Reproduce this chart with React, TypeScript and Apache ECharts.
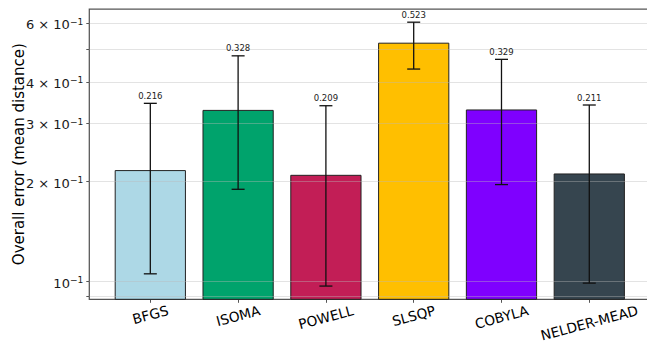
import React, { useEffect, useRef } from 'react';
import * as echarts from 'echarts';

const categories = ['BFGS', 'ISOMA', 'POWELL', 'SLSQP', 'COBYLA', 'NELDER-MEAD'];
const meanError = [0.216, 0.328, 0.209, 0.523, 0.329, 0.211];
const errLow = [0.1055, 0.1897, 0.0969, 0.437, 0.196, 0.0989];
const errHigh = [0.3445, 0.479, 0.3388, 0.605, 0.4675, 0.3405];
const barColors = ['#ADD8E6', '#00A36C', '#C21E56', '#FFBF00', '#7F00FF', '#36454F'];
const yTickValues = [0.09, 0.1, 0.2, 0.3, 0.4, 0.5, 0.6];
const yLabelValues = [0.1, 0.2, 0.3, 0.4, 0.6];
const yMin = 0.0884;
const yMax = 0.663;

const FONT = '"DejaVu Sans", sans-serif';
const lg = (v: number) => Math.log10(v);

function measure(text: string, size: number): number {
  const c = document.createElement('canvas').getContext('2d');
  if (!c) return text.length * size * 0.6;
  c.font = `${size}px "DejaVu Sans"`;
  return c.measureText(text).width;
}

export default function App() {
  const ref = useRef<HTMLDivElement>(null);
  useEffect(() => {
    if (!ref.current) return;
    const chart = echarts.init(ref.current, undefined, { renderer: 'svg' });
    const xfs = 13.7;
    const rot = (15 * Math.PI) / 180;
    const rich: Record<string, any> = {};
    categories.forEach((c, i) => {
      const w = measure(c, xfs);
      const D = (w * Math.sin(rot) + xfs * Math.cos(rot)) / 2;
      rich['l' + i] = {
        fontSize: xfs,
        fontFamily: FONT,
        color: '#000',
        padding: [2 * D * Math.cos(rot), 2 * D * Math.sin(rot), 0, 0],
      };
    });
    const base = lg(yMin);
    chart.setOption({
      animation: false,
      textStyle: { fontFamily: FONT },
      grid: {
        left: 89.3,
        top: 9,
        width: 561,
        height: 290.3,
        show: true,
        borderColor: '#555',
        borderWidth: 1.25,
        backgroundColor: 'transparent',
        containLabel: false,
        outerBoundsMode: 'none',
      },
      xAxis: {
        type: 'value',
        min: -0.695,
        max: 5.695,
        axisLine: { show: false, onZero: false },
        splitLine: { show: false },
        axisTick: {
          show: true,
          length: 3.5,
          customValues: categories.map((_, i) => i),
          lineStyle: { color: '#555', width: 1 },
        },
        axisLabel: {
          customValues: categories.map((_, i) => i),
          rotate: 15,
          align: 'center',
          verticalAlign: 'middle',
          margin: 4,
          fontSize: xfs,
          color: '#000',
          formatter: (v: number) => {
            const i = Math.round(v);
            return `{l${i}|${categories[i]}}`;
          },
          rich,
        },
      },
      yAxis: {
        type: 'value',
        min: lg(yMin),
        max: lg(yMax),
        z: 3,
        name: 'Overall error (mean distance)',
        nameLocation: 'middle',
        nameRotate: 90,
        nameGap: 63,
        nameMoveOverlap: false,
        nameTextStyle: { fontSize: 15, color: '#000', fontFamily: FONT },
        axisLine: { show: false, onZero: false },
        axisTick: {
          show: true,
          length: 3,
          customValues: yTickValues.map(lg),
          lineStyle: { color: '#555', width: 1 },
        },
        splitLine: {
          show: true,
          lineStyle: { color: 'rgba(185,185,185,0.4)', width: 1 },
        },
        axisLabel: {
          customValues: yLabelValues.map(lg),
          margin: 6,
          color: '#1a1a1a',
          formatter: (v: number) => {
            const m = Math.round(Math.pow(10, v + 1));
            return m === 1 ? '{b|10}{s|−1}' : `{b|${m} × 10}{s|−1}`;
          },
          rich: {
            b: { fontSize: 13, fontFamily: FONT, color: '#1a1a1a', padding: [3, 0, 0, 0] },
            s: { fontSize: 9.1, fontFamily: FONT, color: '#1a1a1a', padding: [0, 0, 3, 0] },
          },
        },
      },
      series: [
        {
          type: 'custom',
          z: 2,
          data: categories.map((_, i) => [i, lg(meanError[i])]),
          encode: { x: 0, y: 1 },
          renderItem: (params: any, api: any) => {
            const x = api.value(0);
            const y = api.value(1);
            const tl = api.coord([x - 0.4, y]);
            const br = api.coord([x + 0.4, base]);
            return {
              type: 'rect',
              shape: { x: tl[0], y: tl[1], width: br[0] - tl[0], height: br[1] - tl[1] },
              style: { fill: barColors[params.dataIndex], stroke: '#222', lineWidth: 1 },
            };
          },
        },
        {
          type: 'custom',
          z: 4,
          data: categories.map((_, i) => [i, lg(errLow[i]), lg(errHigh[i]), meanError[i]]),
          encode: { x: 0, y: [1, 2] },
          renderItem: (params: any, api: any) => {
            const x = api.value(0);
            const lo = api.coord([x, api.value(1)]);
            const hi = api.coord([x, api.value(2)]);
            const cap = 6.5;
            const ls = { stroke: '#111', lineWidth: 1.3 };
            return {
              type: 'group',
              children: [
                { type: 'line', shape: { x1: lo[0], y1: lo[1], x2: hi[0], y2: hi[1] }, style: ls },
                { type: 'line', shape: { x1: hi[0] - cap, y1: hi[1], x2: hi[0] + cap, y2: hi[1] }, style: ls },
                { type: 'line', shape: { x1: lo[0] - cap, y1: lo[1], x2: lo[0] + cap, y2: lo[1] }, style: ls },
                {
                  type: 'text',
                  x: hi[0],
                  y: hi[1] - 7.5,
                  style: {
                    text: Number(api.value(3)).toFixed(3),
                    fontSize: 8.5,
                    fontFamily: FONT,
                    fill: '#222',
                    align: 'center',
                    verticalAlign: 'middle',
                  },
                },
              ],
            };
          },
        },
      ],
    });
    return () => chart.dispose();
  }, []);
  return (
    <div
      ref={ref}
      style={{ position: 'absolute', left: 0, top: 0, width: 647, height: 343, background: '#fff' }}
    />
  );
}
